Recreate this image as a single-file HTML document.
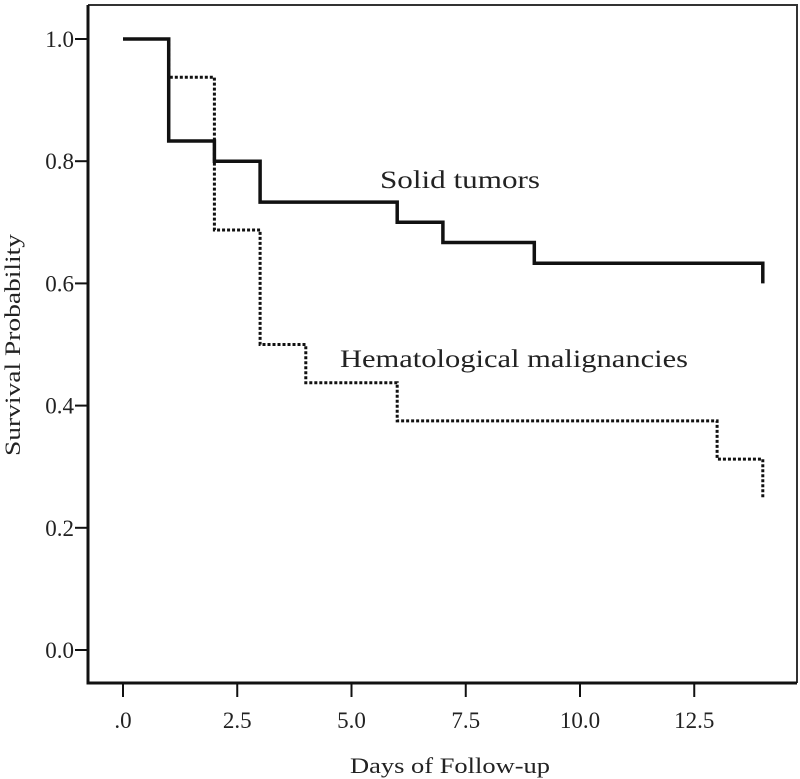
<!DOCTYPE html>
<html><head><meta charset="utf-8"><style>html,body{margin:0;padding:0;background:#fff}svg{display:block}text{font-family:"Liberation Serif",serif;fill:#222}</style></head>
<body>
<svg id="chart" width="800" height="779" viewBox="0 0 800 779">
<rect x="0" y="0" width="800" height="779" fill="#fff"/>
<g id="axes"></g>
<g id="series"></g>
<text x="380" y="188" font-size="25" textLength="160" lengthAdjust="spacingAndGlyphs">Solid tumors</text>
<text x="340" y="367" font-size="25" textLength="348" lengthAdjust="spacingAndGlyphs">Hematological malignancies</text>
<text x="450" y="773" font-size="22" text-anchor="middle" textLength="200" lengthAdjust="spacingAndGlyphs">Days of Follow-up</text>
<text transform="translate(20,345) rotate(-90)" font-size="22" text-anchor="middle" textLength="222" lengthAdjust="spacingAndGlyphs">Survival Probability</text>
</svg>
<script>
const xTicks=[0,2.5,5,7.5,10,12.5];
const xTickLabels=[".0","2.5","5.0","7.5","10.0","12.5"];
const yTicks=[0,0.2,0.4,0.6,0.8,1.0];
const yTickLabels=["0.0","0.2","0.4","0.6","0.8","1.0"];
const solidTimes=[0,1,2,3,6,7,9,14];
const solidSurv=[1.0,0.833,0.8,0.733,0.7,0.667,0.633,0.6];
const hemaTimes=[1,2,3,4,6,13,14];
const hemaSurv=[0.9375,0.6875,0.5,0.4375,0.375,0.3125,0.25];
const hemaStart=1.0;

const X=v=>123+v*45.7;
const Y=v=>650-v*611;
const NS="http://www.w3.org/2000/svg";
const axes=document.getElementById('axes');
const series=document.getElementById('series');
function mk(tag,attrs,parent){const e=document.createElementNS(NS,tag);for(const k in attrs)e.setAttribute(k,attrs[k]);parent.appendChild(e);return e;}

let f=mk('path',{d:'M88,5 H797 V683',fill:'none',stroke:'#333','stroke-width':2},axes);


let ax=mk('path',{d:'M88,5 V683 H797',fill:'none',stroke:'#111','stroke-width':3},axes);



xTicks.forEach((t,i)=>{
 const l=mk('line',{x1:X(t),x2:X(t),y1:683,y2:697,stroke:'#111','stroke-width':2},axes);
 
 
 const tx=mk('text',{x:X(t),y:728,'font-size':23,'text-anchor':'middle'},axes);
 tx.textContent=xTickLabels[i];
 
 
});
yTicks.forEach((t,i)=>{
 const l=mk('line',{x1:75,x2:88,y1:Y(t),y2:Y(t),stroke:'#111','stroke-width':2},axes);
 
 
 const tx=mk('text',{x:74,y:Y(t)+8,'font-size':23,'text-anchor':'end'},axes);
 tx.textContent=yTickLabels[i];
 
 
});

function stepPath(times,surv,start){
 let d='';
 if(start!==undefined){d='M'+X(times[0])+','+Y(start)+' V'+Y(surv[0]);}
 else d='M'+X(times[0])+','+Y(surv[0]);
 for(let i=1;i<times.length;i++){d+=' H'+X(times[i])+' V'+Y(surv[i]);}
 return d;
}
// hematological: starts at 1.0 (overlapping solid until day 1)
let hd='M'+X(0)+','+Y(hemaStart)+' H'+X(hemaTimes[0])+' V'+Y(hemaSurv[0]);
for(let i=1;i<hemaTimes.length;i++){
 if(i===hemaTimes.length-1){hd+=' H'+X(hemaTimes[i])+' V'+Y(hemaSurv[i]);}
 else hd+=' H'+X(hemaTimes[i])+' V'+Y(hemaSurv[i]);
}
// first fix: surv index mapping — hemaSurv[i] is value after time hemaTimes[i]; last drop at end
let hema=mk('path',{d:(function(){let d='M'+X(0)+','+Y(hemaStart)+' H'+X(hemaTimes[0])+' V'+Y(hemaSurv[0]);for(let i=1;i<hemaTimes.length;i++){d+=' H'+X(hemaTimes[i])+' V'+Y(hemaSurv[i]);}return d;})(),fill:'none',stroke:'#111','stroke-width':3,'stroke-dasharray':'3,2'},series);


let solid=mk('path',{d:stepPath(solidTimes,solidSurv),fill:'none',stroke:'#111','stroke-width':3.5},series);


</script>
</body></html>
